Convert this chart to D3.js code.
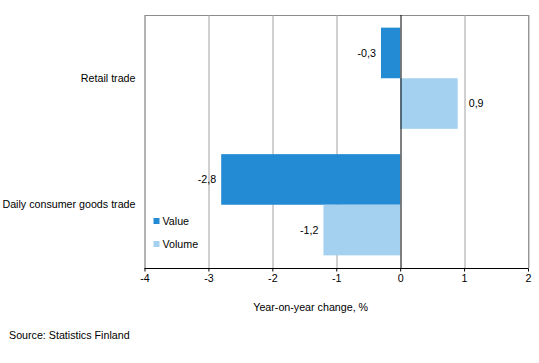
<!DOCTYPE html>
<html>
<head>
<meta charset="utf-8">
<script src="https://cdn.jsdelivr.net/npm/d3@7"></script>
<style>
  body { margin: 0; background: #fff; }
  text { font-family: "Liberation Sans", Arial, sans-serif; font-size: 10.7px; fill: #000; }
</style>
</head>
<body>
<svg width="539" height="363"></svg>
<script>
// data
var categories = ["Retail trade", "Daily consumer goods trade"];
var series = ["Value", "Volume"];
var valueData = [-0.3, -2.8];
var volumeData = [0.9, -1.2];
var xTicks = [-4, -3, -2, -1, 0, 1, 2];
var colors = ["#238bd4", "#a4d1ef"];

var svg = d3.select("svg"),
    margin = {top: 15, right: 11, bottom: 95, left: 144.5},
    width = 539 - margin.left - margin.right,
    height = 363 - margin.top - margin.bottom;

var rows = categories.map(function(c, i) {
  return {cat: c, vals: [valueData[i], volumeData[i]]};
});

// comma decimal, plain hyphen minus
function fmt(d) { return d.toFixed(1).replace(".", ","); }

var x = d3.scaleLinear().domain([-4, 2]).range([0, width]);
var y0 = d3.scaleBand().domain(categories).range([0, height]).paddingInner(0.2).paddingOuter(0.1);
var y1 = d3.scaleBand().domain(series).range([0, y0.bandwidth()]);

var g = svg.append("g").attr("transform", "translate(" + margin.left + "," + margin.top + ")");

// frame
g.append("rect")
    .attr("x", 0.5).attr("y", 0.5)
    .attr("width", width).attr("height", height)
    .attr("fill", "none").attr("stroke", "#8c8c8c");

// grid lines
g.selectAll(".grid").data(xTicks.filter(function(d) { return d !== 0; }))
  .enter().append("line")
    .attr("x1", function(d) { return Math.round(x(d)) + 0.5; })
    .attr("x2", function(d) { return Math.round(x(d)) + 0.5; })
    .attr("y1", 0).attr("y2", height)
    .attr("stroke", "#a0a0a0");

// bars
var grp = g.selectAll(".cat").data(rows).enter().append("g")
    .attr("transform", function(d) { return "translate(0," + y0(d.cat) + ")"; });

grp.selectAll("rect").data(function(d) { return d.vals; })
  .enter().append("rect")
    .attr("x", function(d) { return x(Math.min(0, d)); })
    .attr("y", function(d, i) { return y1(series[i]); })
    .attr("width", function(d) { return Math.abs(x(d) - x(0)); })
    .attr("height", y1.bandwidth())
    .attr("fill", function(d, i) { return colors[i]; });

// value labels
grp.selectAll(".lbl").data(function(d) { return d.vals; })
  .enter().append("text")
    .attr("x", function(d) { return d < 0 ? x(d) - 5 : x(d) + 11; })
    .attr("y", function(d, i) { return y1(series[i]) + y1.bandwidth() / 2; })
    .attr("dy", "0.35em")
    .attr("text-anchor", function(d) { return d < 0 ? "end" : "start"; })
    .text(fmt);

// zero line
g.append("line")
    .attr("x1", Math.round(x(0)) + 0.5).attr("x2", Math.round(x(0)) + 0.5)
    .attr("y1", 0).attr("y2", height)
    .attr("stroke", "#000");

// category labels
g.selectAll(".catlbl").data(categories).enter().append("text")
    .attr("x", -9)
    .attr("y", function(d) { return y0(d) + y0.bandwidth() / 2; })
    .attr("dy", "0.35em")
    .attr("text-anchor", "end")
    .text(function(d) { return d; });

// x axis
var xAxis = d3.axisBottom(x).tickValues(xTicks).tickSize(3).tickPadding(3)
    .tickFormat(function(d) { return String(d); });
var ax = g.append("g").attr("transform", "translate(0," + (height + 0.5) + ")").call(xAxis);
ax.select(".domain").attr("stroke", "#000").attr("d", "M0,0H" + width);
ax.selectAll(".tick line").attr("stroke", "#000");
ax.selectAll(".tick text").style("font-size", "10.7px").attr("font-family", null);

svg.append("text")
    .attr("x", margin.left + x(-1.4))
    .attr("y", 307)
    .attr("dy", "0.35em")
    .attr("text-anchor", "middle")
    .text("Year-on-year change, %");

// legend
var leg = g.selectAll(".leg").data(series).enter().append("g")
    .attr("transform", function(d, i) { return "translate(9," + (206 + i * 23) + ")"; });
leg.append("rect").attr("x", 0).attr("y", -3).attr("width", 6).attr("height", 6)
    .attr("fill", function(d, i) { return colors[i]; });
leg.append("text").attr("x", 9).attr("dy", "0.35em").text(function(d) { return d; });

// source
svg.append("text")
    .attr("x", 9)
    .attr("y", 335)
    .attr("dy", "0.35em")
    .text("Source: Statistics Finland");
</script>
</body>
</html>
